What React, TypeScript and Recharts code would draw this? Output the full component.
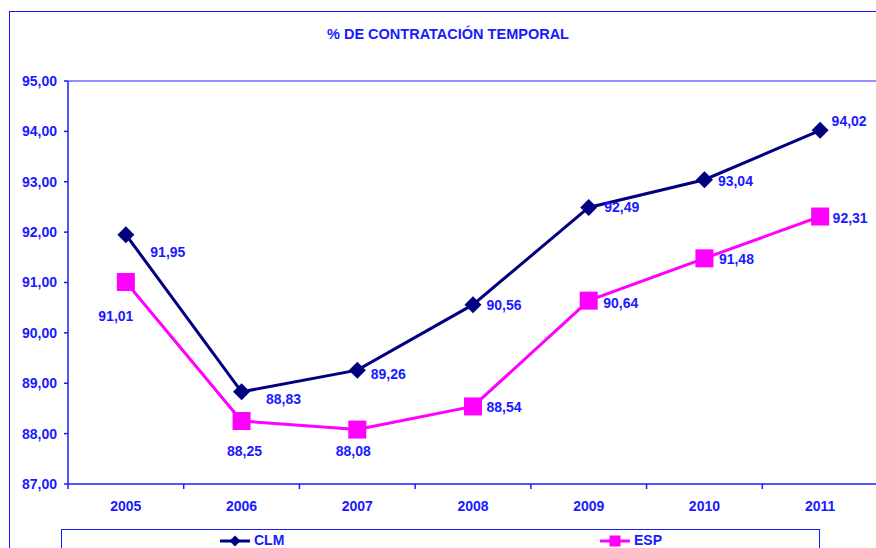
import React from 'react';
import { LineChart, Line, XAxis, YAxis, ReferenceLine, LabelList } from 'recharts';

const years = ['2005', '2006', '2007', '2008', '2009', '2010', '2011'];
const clmValues = [91.95, 88.83, 89.26, 90.56, 92.49, 93.04, 94.02];
const espValues = [91.01, 88.25, 88.08, 88.54, 90.64, 91.48, 92.31];
const yTicks = [87, 88, 89, 90, 91, 92, 93, 94, 95];

const data = years.map((year, i) => ({ year, CLM: clmValues[i], ESP: espValues[i] }));

const BLUE = '#1a1aff';
const NAVY = '#000080';
const MAGENTA = '#ff00ff';
const FONT = '"Liberation Sans", Arial, sans-serif';

const WIDTH = 878;
const HEIGHT = 548;
const X_AXIS_H = 30;
const MARGIN = { top: 81, right: 0, bottom: 64 - X_AXIS_H, left: 0 };
const Y_AXIS_W = 68;
const AXIS_Y = HEIGHT - 64;
const BAND = (WIDTH - Y_AXIS_W) / years.length;

// label offsets from each point (text centre), like the excel labels
const clmOffsets = [[42, 17], [42, 7], [31, 4], [31, 0], [33, 0], [31, 1], [29, -9]];
const espOffsets = [[-10, 34], [3, 30], [-4, 21], [31, 1], [32, 2], [32, 1], [30, 1]];

const fmt = (v: number) => v.toFixed(2).replace('.', ',');

const Diamond = (props: any) => {
  const { cx, cy, size = 8.5 } = props;
  if (cx == null || cy == null) return null;
  const s = size;
  return <polygon points={`${cx},${cy - s} ${cx + s},${cy} ${cx},${cy + s} ${cx - s},${cy}`} fill={NAVY} />;
};

const Square = (props: any) => {
  const { cx, cy, size = 9 } = props;
  if (cx == null || cy == null) return null;
  return <rect x={cx - size} y={cy - size} width={size * 2} height={size * 2} fill={MAGENTA} />;
};

const makeLabel = (offsets: number[][]) => (props: any) => {
  const { x, y, value, index } = props;
  const [dx, dy] = offsets[index] || [30, 0];
  return (
    <text x={x + dx} y={y + dy} textAnchor="middle" dominantBaseline="central"
      fill={BLUE} fontSize={14} fontWeight="bold" fontFamily={FONT}>
      {fmt(value)}
    </text>
  );
};

const XTick = (props: any) => {
  const { x, payload, index } = props;
  return (
    <g>
      <line x1={x - BAND / 2} y1={AXIS_Y} x2={x - BAND / 2} y2={AXIS_Y + 5} stroke={BLUE} strokeWidth={1.5} />
      {index === years.length - 1 && (
        <line x1={x + BAND / 2} y1={AXIS_Y} x2={x + BAND / 2} y2={AXIS_Y + 5} stroke={BLUE} strokeWidth={1.5} />
      )}
      <text x={x} y={AXIS_Y + 22} textAnchor="middle" dominantBaseline="central"
        fill={BLUE} fontSize={14} fontWeight="bold" fontFamily={FONT}>
        {payload.value}
      </text>
    </g>
  );
};

export default function App() {
  return (
    <div style={{ position: 'absolute', left: 0, top: 0, width: 876, height: 548, overflow: 'hidden', background: '#fff', fontFamily: FONT }}>
      <div style={{ position: 'absolute', left: 9, top: 11, width: 900, height: 600, borderLeft: `1.5px solid ${BLUE}`, borderTop: `1.5px solid ${BLUE}` }} />
      <div style={{ position: 'absolute', left: 0, top: 26, width: 896, textAlign: 'center', color: BLUE, fontSize: 14.5, fontWeight: 'bold' }}>
        % DE CONTRATACIÓN TEMPORAL
      </div>
      <div style={{ position: 'absolute', left: 0, top: 0 }}>
        <LineChart width={WIDTH} height={HEIGHT} data={data} margin={MARGIN}>
          <XAxis dataKey="year" scale="band" height={X_AXIS_H} axisLine={{ stroke: BLUE, strokeWidth: 1.5 }} tickLine={false} tick={<XTick />} interval={0} />
          <YAxis domain={[87, 95]} ticks={yTicks} width={Y_AXIS_W} tickFormatter={fmt} tickSize={4} tickMargin={7}
            axisLine={{ stroke: BLUE, strokeWidth: 1.5 }} tickLine={{ stroke: BLUE, strokeWidth: 1.5 }}
            tick={{ fill: BLUE, fontSize: 14, fontWeight: 'bold', fontFamily: FONT }} />
          <ReferenceLine y={95} stroke="#6b6bff" strokeWidth={1.5} />
          <Line dataKey="CLM" stroke={NAVY} strokeWidth={3} dot={<Diamond />} activeDot={false} isAnimationActive={false}>
            <LabelList dataKey="CLM" content={makeLabel(clmOffsets)} />
          </Line>
          <Line dataKey="ESP" stroke={MAGENTA} strokeWidth={3} dot={<Square />} activeDot={false} isAnimationActive={false}>
            <LabelList dataKey="ESP" content={makeLabel(espOffsets)} />
          </Line>
        </LineChart>
      </div>
      <div style={{ position: 'absolute', left: 61, top: 529, width: 757, height: 40, borderLeft: `1.5px solid ${BLUE}`, borderTop: `1.5px solid ${BLUE}`, borderRight: `1.5px solid ${BLUE}` }}>
        <svg width={757} height={30} style={{ position: 'absolute', left: 0, top: 0 }}>
          <line x1={158} y1={11} x2={188} y2={11} stroke={NAVY} strokeWidth={3} />
          <Diamond cx={173} cy={11} size={5.5} />
          <text x={192} y={10} dominantBaseline="central" fill={BLUE} fontSize={14} fontWeight="bold" fontFamily={FONT}>CLM</text>
          <line x1={538} y1={11} x2={568} y2={11} stroke={MAGENTA} strokeWidth={3} />
          <Square cx={553} cy={11} size={5.5} />
          <text x={572} y={10} dominantBaseline="central" fill={BLUE} fontSize={14} fontWeight="bold" fontFamily={FONT}>ESP</text>
        </svg>
      </div>
    </div>
  );
}
